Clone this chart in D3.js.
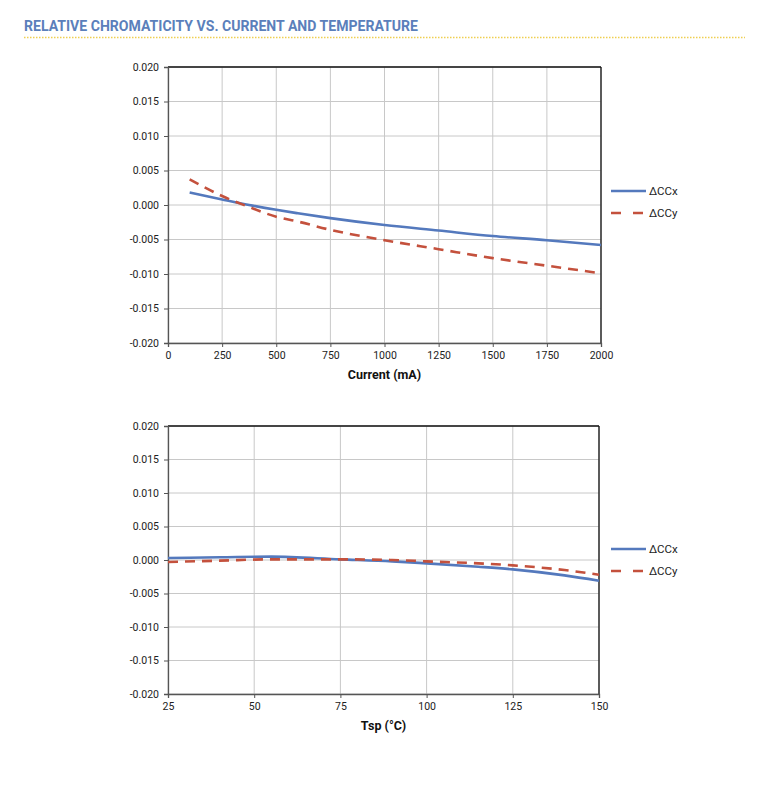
<!DOCTYPE html>
<html>
<head>
<meta charset="utf-8">
<script src="https://cdn.jsdelivr.net/npm/d3@7"></script>
<style>
  body { margin: 0; background: #fff; }
  text { font-family: Roboto, "Open Sans", sans-serif; }
</style>
</head>
<body>
<script>
const WIDTH = 776;
const HEIGHT = 794;
const BLUE = "#5479bd";
const RED = "#c4513d";

// chart 1: current
const currentX = [100, 250, 375, 500, 600, 750, 1000, 1250, 1500, 1750, 2000];
const currentCCx = [0.0018, 0.0008, 0.0000, -0.0007, -0.0012, -0.0019, -0.0029, -0.0037, -0.0045, -0.0051, -0.0058];
const currentCCy = [0.0037, 0.0013, -0.0003, -0.0017, -0.0024, -0.0036, -0.0051, -0.0064, -0.0077, -0.0088, -0.0099];
const currentTicks = [0, 250, 500, 750, 1000, 1250, 1500, 1750, 2000];

// chart 2: temperature
const tempX = [25, 40, 55, 75, 90, 100, 115, 125, 140, 150];
const tempCCx = [0.0003, 0.0004, 0.0005, 0.0001, -0.0002, -0.0005, -0.0010, -0.0014, -0.0023, -0.0031];
const tempCCy = [-0.0003, -0.0001, 0.0001, 0.0001, 0.0000, -0.0002, -0.0005, -0.0008, -0.0015, -0.0022];
const tempTicks = [25, 50, 75, 100, 125, 150];

const yTicks = [-0.020, -0.015, -0.010, -0.005, 0.000, 0.005, 0.010, 0.015, 0.020];
const seriesNames = ["\u0394CCx", "\u0394CCy"];

const svg = d3.select("body").append("svg")
  .attr("width", WIDTH).attr("height", HEIGHT);

// header
svg.append("text")
  .attr("x", 24).attr("y", 31)
  .attr("fill", "#5b7fbb")
  .style("font-size", "14px")
  .style("font-weight", "bold")
  .attr("textLength", 394)
  .attr("lengthAdjust", "spacingAndGlyphs")
  .text("RELATIVE CHROMATICITY VS. CURRENT AND TEMPERATURE");

svg.append("line")
  .attr("x1", 24).attr("x2", 745).attr("y1", 37.5).attr("y2", 37.5)
  .attr("stroke", "#efcf50").attr("stroke-width", 1.5)
  .attr("stroke-dasharray", "1.5,1.5");

const drawChart = (opts) => {
  const { x0, x1, y0, y1, xDomain, xs, ccx, ccy, xTicks, label, legendY } = opts;
  const xScale = d3.scaleLinear().domain(xDomain).range([x0, x1]);
  const yScale = d3.scaleLinear().domain([-0.02, 0.02]).range([y1, y0]);
  const g = svg.append("g");

  // grid
  g.selectAll(".hgrid").data(yTicks).enter().append("line")
    .attr("x1", x0).attr("x2", x1)
    .attr("y1", d => yScale(d)).attr("y2", d => yScale(d))
    .attr("stroke", "#c8c8c8").attr("stroke-width", 1);
  g.selectAll(".vgrid").data(xTicks).enter().append("line")
    .attr("x1", d => xScale(d)).attr("x2", d => xScale(d))
    .attr("y1", y0).attr("y2", y1)
    .attr("stroke", "#c8c8c8").attr("stroke-width", 1);

  // frame top/right
  g.append("line").attr("x1", x0).attr("x2", x1).attr("y1", y0).attr("y2", y0)
    .attr("stroke", "#111").attr("stroke-width", 1.3);
  g.append("line").attr("x1", x1).attr("x2", x1).attr("y1", y0).attr("y2", y1)
    .attr("stroke", "#111").attr("stroke-width", 1.3);

  const yAxis = d3.axisLeft(yScale).tickValues(yTicks).tickFormat(d3.format(".3f")).tickSize(4).tickPadding(5);
  const xAxis = d3.axisBottom(xScale).tickValues(xTicks).tickFormat(d3.format("d")).tickSize(4).tickPadding(5);

  const ya = g.append("g").attr("transform", "translate(" + x0 + ",0)").call(yAxis);
  const xa = g.append("g").attr("transform", "translate(0," + y1 + ")").call(xAxis);
  [ya, xa].forEach(a => {
    a.select(".domain").attr("stroke", "#555").attr("stroke-width", 1.3);
    a.selectAll(".tick line").attr("stroke", "#555");
    a.selectAll("text").attr("fill", "#222").style("font-size", "10.5px")
      .style("font-family", "Roboto, sans-serif");
  });
  ya.selectAll("text").text(d => d3.format(".3f")(d).replace("\u2212", "-"));

  const line = d3.line().curve(d3.curveMonotoneX)
    .x(d => xScale(d[0])).y(d => yScale(d[1]));

  g.append("path").datum(d3.zip(xs, ccx))
    .attr("d", line).attr("fill", "none")
    .attr("stroke", BLUE).attr("stroke-width", 2.6);
  g.append("path").datum(d3.zip(xs, ccy))
    .attr("d", line).attr("fill", "none")
    .attr("stroke", RED).attr("stroke-width", 2.6)
    .attr("stroke-dasharray", "10,7");

  // axis title
  g.append("text")
    .attr("x", (x0 + x1) / 2).attr("y", y1 + 36)
    .attr("text-anchor", "middle")
    .style("font-size", "12.5px").style("font-weight", "bold")
    .attr("fill", "#111")
    .text(label);

  // legend
  const leg = g.selectAll(".leg").data(seriesNames).enter().append("g")
    .attr("transform", (d, i) => "translate(611," + (legendY + i * 22) + ")");
  leg.append("line").attr("x1", 0).attr("x2", 35).attr("y1", 0).attr("y2", 0)
    .attr("stroke", (d, i) => i ? RED : BLUE).attr("stroke-width", 2.6)
    .attr("stroke-dasharray", (d, i) => i ? "10,12" : null);
  leg.append("text").attr("x", 38).attr("y", 4)
    .style("font-size", "11.5px").attr("fill", "#222")
    .text(d => d);
};

drawChart({
  x0: 168, x1: 601, y0: 67, y1: 343,
  xDomain: [0, 2000], xs: currentX, ccx: currentCCx, ccy: currentCCy,
  xTicks: currentTicks, label: "Current (mA)", legendY: 191
});

drawChart({
  x0: 168, x1: 599, y0: 426, y1: 694,
  xDomain: [25, 150], xs: tempX, ccx: tempCCx, ccy: tempCCy,
  xTicks: tempTicks, label: "Tsp (\u00B0C)", legendY: 549
});
</script>
</body>
</html>
